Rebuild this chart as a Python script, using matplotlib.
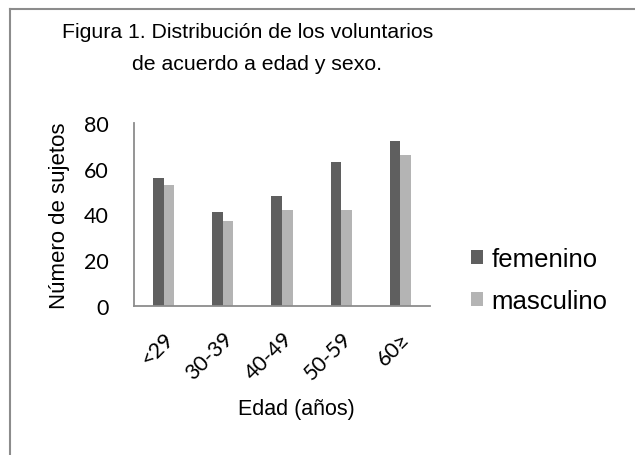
import matplotlib.pyplot as plt
from matplotlib.lines import Line2D
import numpy as np

plt.rcParams['font.family'] = ['Liberation Sans', 'DejaVu Sans']

# data
grupos = ['<29', '30-39', '40-49', '50-59', '60≥']
femenino = [56, 41, 48, 63, 72]
masculino = [53, 37, 42, 42, 66]
y_ticks = [0, 20, 40, 60, 80]

W, H = 635, 456
fig = plt.figure(figsize=(W / 100, H / 100), dpi=100)
fig.patch.set_facecolor('white')

# axes placed in pixel terms
left, right, top, bottom = 134, 430, 124, 307
ax = fig.add_axes([left / W, 1 - bottom / H, (right - left) / W, (bottom - top) / H])

x = np.arange(len(grupos))
w = 0.18
ax.bar(x - w / 2, femenino, w, color='#5f5f5f', label='femenino')
ax.bar(x + w / 2, masculino, w, color='#b4b4b4', label='masculino')

ax.set_xlim(-0.5, len(grupos) - 0.5)
ax.set_ylim(0, 80)
ax.set_yticks(y_ticks)
ax.set_xticks(x)
ax.set_xticklabels(grupos, rotation=45, ha='right', rotation_mode='anchor')
ax.tick_params(axis='both', length=0)
ax.tick_params(axis='y', pad=18)
ax.tick_params(axis='x', pad=16)
for lab in ax.get_xticklabels() + ax.get_yticklabels():
    lab.set_fontfamily(['Lato', 'DejaVu Sans'])
    lab.set_fontsize(15.5)

for s in ['top', 'right']:
    ax.spines[s].set_visible(False)
for s in ['left', 'bottom']:
    ax.spines[s].set_color('#8c8c8c')
    ax.spines[s].set_linewidth(1.3)

ax.set_ylabel('Número de sujetos', fontsize=16, va='center')
ax.yaxis.set_label_coords(-(134 - 60) / 296, 0.5)
ax.set_xlabel('Edad (años)', fontsize=15.5, va='center')
ax.xaxis.set_label_coords((296 - 134) / 296, -(410 - 307) / 183)

leg = fig.legend(loc='center left', bbox_to_anchor=(471 / W, 1 - 281 / H),
                 frameon=False, fontsize=18.5, handlelength=0.45, handleheight=0.45,
                 handletextpad=0.35, labelspacing=0.7, borderpad=0, borderaxespad=0)

fig.text(62 / W, 1 - 32 / H, 'Figura 1. Distribución de los voluntarios',
         fontsize=15.3, ha='left', va='center')
fig.text(132 / W, 1 - 64 / H, 'de acuerdo a edad y sexo.',
         fontsize=15.3, ha='left', va='center')

# gray frame on left and top edges
fig.add_artist(Line2D([10 / W, 10 / W], [0, 1 - 10 / H], transform=fig.transFigure,
                      color='#8c8c8c', lw=1.5))
fig.add_artist(Line2D([10 / W, 1], [1 - 10 / H, 1 - 10 / H], transform=fig.transFigure,
                      color='#8c8c8c', lw=1.5))

fig.savefig('out.png', dpi=100)
